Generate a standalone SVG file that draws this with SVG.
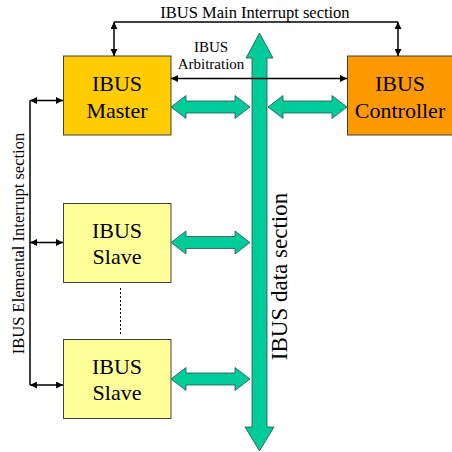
<svg xmlns="http://www.w3.org/2000/svg" width="452" height="452" viewBox="0 0 452 452">
<defs>
<marker id="ah" viewBox="0 0 10 10" refX="10" refY="5" markerWidth="8" markerHeight="7" markerUnits="userSpaceOnUse" orient="auto-start-reverse">
<path d="M0,0 L10,5 L0,10 z" fill="#000"/>
</marker>
<style>
text{font-family:"Liberation Serif","Times New Roman",serif;fill:#000;}
.box{stroke:#404040;stroke-width:1;}
.ln{fill:none;stroke:#000;stroke-width:1.5;}
.arr{fill:none;stroke:#000;stroke-width:1.5;marker-start:url(#ah);marker-end:url(#ah);}
.bus{fill:#00CC99;stroke:#2F4F4F;stroke-width:0.8;}
.big{font-size:22px;text-anchor:middle;}
</style>
</defs>
<rect width="452" height="452" fill="#fff"/>

<g id="master">
<rect class="box" x="63.5" y="56" width="107.5" height="79" fill="#FFCC00"/>
<text class="big" x="117" y="91">IBUS</text>
<text class="big" x="117" y="117.5">Master</text>
</g>
<g id="controller">
<rect class="box" x="347.5" y="56" width="106" height="79" fill="#FF9900"/>
<text class="big" x="400" y="91">IBUS</text>
<text class="big" x="400" y="117.5">Controller</text>
</g>
<g id="slave1">
<rect class="box" x="63.5" y="203.5" width="107.5" height="79" fill="#FFFF99"/>
<text class="big" x="117" y="238">IBUS</text>
<text class="big" x="117" y="264">Slave</text>
</g>
<g id="slave2">
<rect class="box" x="63.5" y="339.5" width="107.5" height="79" fill="#FFFF99"/>
<text class="big" x="117" y="374">IBUS</text>
<text class="big" x="117" y="400">Slave</text>
</g>

<g id="connectors">
<!-- data bus -->
<polygon class="bus" points="259.5,33 273,58 267,58 267,427 274,427 259.5,451 245,427 252,427 252,58 246,58"/>
<polygon class="bus" points="171,107 186,95.5 186,101 235,101 235,95.5 250,107 235,118.5 235,113 186,113 186,118.5"/>
<polygon class="bus" points="268,107 283,95.5 283,101 332,101 332,95.5 347,107 332,118.5 332,113 283,113 283,118.5"/>
<polygon class="bus" points="171,242.5 186,231 186,236.5 235,236.5 235,231 250,242.5 235,254 235,248.5 186,248.5 186,254"/>
<polygon class="bus" points="171,379 186,367.5 186,373 235,373 235,367.5 250,379 235,390.5 235,385 186,385 186,390.5"/>
<!-- main interrupt -->
<path class="ln" d="M114,22 H398"/>
<path class="arr" d="M114,22 V56"/>
<path class="arr" d="M398,22 V56"/>
<!-- arbitration -->
<path class="arr" d="M171,78.5 H347"/>
<!-- elemental interrupt -->
<path class="ln" d="M30,100.5 V385"/>
<path class="arr" d="M30,100.5 H63"/>
<path class="arr" d="M30,242.5 H63"/>
<path class="arr" d="M30,385 H63"/>
<!-- dashed -->
<path d="M120.5,288 V334" stroke="#000" stroke-width="1" stroke-dasharray="2,2"/>
</g>

<text x="255" y="18" font-size="16.5" text-anchor="middle">IBUS Main Interrupt section</text>
<text x="211" y="52" font-size="15" text-anchor="middle">IBUS</text>
<text x="211" y="69" font-size="15" text-anchor="middle">Arbitration</text>
<text transform="translate(24,243.5) rotate(-90)" font-size="16.5" text-anchor="middle">IBUS Elemental Interrupt section</text>
<text transform="translate(287,276.5) rotate(-90)" font-size="23" text-anchor="middle">IBUS data section</text>
</svg>
